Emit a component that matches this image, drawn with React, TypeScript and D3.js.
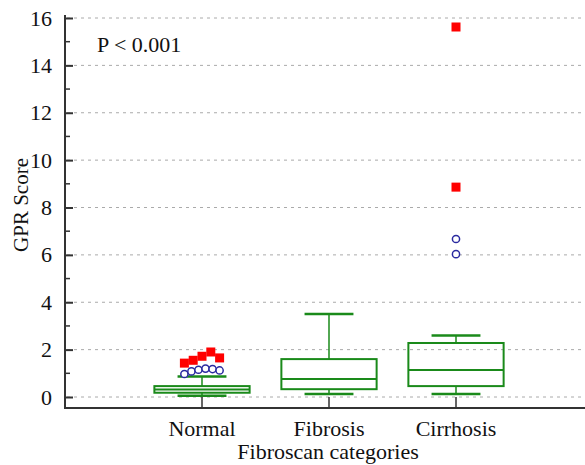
import React, { useEffect, useRef } from 'react'
import * as d3 from 'd3'

const categories = ['Normal', 'Fibrosis', 'Cirrhosis']
const q1 = [0.18, 0.33, 0.46]
const medians = [0.32, 0.76, 1.14]
const q3 = [0.46, 1.6, 2.28]
const whiskerLow = [0.05, 0.13, 0.13]
const whiskerHigh = [0.87, 3.5, 2.6]

// outside values (circles) and far-out values (squares)
const outsideNormal = [0.97, 1.08, 1.15, 1.2, 1.18, 1.12]
const outsideCirrhosis = [6.67, 6.03]
const farNormal = [1.43, 1.55, 1.72, 1.9, 1.65]
const farCirrhosis = [15.62, 8.86]

const yTicks = [0, 2, 4, 6, 8, 10, 12, 14, 16]

export default function App() {
  const ref = useRef<SVGSVGElement>(null)

  useEffect(() => {
    const svg = d3.select(ref.current)
    svg.selectAll('*').remove()

    const width = 585
    const left = 65
    const axisY = 408

    const y = d3.scaleLinear().domain([0, 16]).range([397, 18])
    const x = d3.scaleBand().domain(categories).range([138.5, 519.5])
    const bw = x.bandwidth()
    const cx = (c: string) => (x(c) as number) + bw / 2

    const font = "'Liberation Serif', 'Times New Roman', serif"
    const green = '#1a8a1a'

    // grid
    svg.append('g').selectAll('line').data(yTicks).join('line')
      .attr('x1', left + 2).attr('x2', width)
      .attr('y1', d => y(d)).attr('y2', d => y(d))
      .attr('stroke', '#aaa').attr('stroke-dasharray', '3,4')

    // y axis
    const yAxis = d3.axisLeft(y).tickValues(yTicks).tickSize(-8).tickPadding(13).tickFormat(d3.format('d'))
    const gy = svg.append('g').attr('transform', `translate(${left},0)`).call(yAxis)
    gy.attr('font-family', null).attr('font-size', null)
    gy.select('.domain').remove()
    gy.selectAll('.tick line').attr('stroke', '#333').attr('stroke-width', 2)
    gy.selectAll('.tick text').style('font-family', font).style('font-size', '22px').attr('fill', '#111')
    svg.append('g').selectAll('line').data(d3.range(1, 16, 2)).join('line')
      .attr('x1', left).attr('x2', left + 5)
      .attr('y1', d => y(d)).attr('y2', d => y(d))
      .attr('stroke', '#333').attr('stroke-width', 1.5)
    svg.append('line').attr('x1', left).attr('x2', left).attr('y1', 15).attr('y2', axisY + 1)
      .attr('stroke', '#333').attr('stroke-width', 2)

    // x axis
    svg.append('line').attr('x1', left - 1).attr('x2', width).attr('y1', axisY).attr('y2', axisY)
      .attr('stroke', '#333').attr('stroke-width', 2)
    svg.append('g').selectAll('line').data(categories).join('line')
      .attr('x1', d => cx(d)).attr('x2', d => cx(d))
      .attr('y1', axisY).attr('y2', axisY - 11)
      .attr('stroke', '#333').attr('stroke-width', 1.5)
    svg.append('g').selectAll('text').data(categories).join('text')
      .attr('x', d => cx(d)).attr('y', 436)
      .attr('text-anchor', 'middle').style('font-family', font).style('font-size', '22px').attr('fill', '#111')
      .text(d => d)

    svg.append('text').attr('x', 328).attr('y', 459).attr('text-anchor', 'middle')
      .style('font-family', font).style('font-size', '22px').attr('fill', '#111').text('Fibroscan categories')
    svg.append('text').attr('transform', 'translate(28,205) rotate(-90)').attr('text-anchor', 'middle')
      .style('font-family', font).style('font-size', '21px').attr('fill', '#111').text('GPR Score')
    svg.append('text').attr('x', 97).attr('y', 52)
      .style('font-family', font).style('font-size', '22px').attr('fill', '#111').text('P < 0.001')

    // boxes
    const boxW = bw * 0.75
    const capW = bw * 0.385
    const g = svg.append('g').attr('stroke', green).attr('fill', 'none')
    categories.forEach((c, i) => {
      const m = cx(c)
      g.append('line').attr('x1', m).attr('x2', m).attr('y1', y(q3[i])).attr('y2', y(whiskerHigh[i])).attr('stroke-width', 1.5)
      g.append('line').attr('x1', m).attr('x2', m).attr('y1', y(q1[i])).attr('y2', y(whiskerLow[i])).attr('stroke-width', 1.5)
      g.append('line').attr('x1', m - capW / 2).attr('x2', m + capW / 2)
        .attr('y1', y(whiskerHigh[i])).attr('y2', y(whiskerHigh[i])).attr('stroke-width', 2.5)
      g.append('line').attr('x1', m - capW / 2).attr('x2', m + capW / 2)
        .attr('y1', y(whiskerLow[i])).attr('y2', y(whiskerLow[i])).attr('stroke-width', 2.5)
      g.append('rect').attr('x', m - boxW / 2).attr('width', boxW)
        .attr('y', y(q3[i])).attr('height', y(q1[i]) - y(q3[i])).attr('stroke-width', 2)
      g.append('line').attr('x1', m - boxW / 2).attr('x2', m + boxW / 2)
        .attr('y1', y(medians[i])).attr('y2', y(medians[i])).attr('stroke-width', 2)
    })

    // outliers, spread side by side when there are many in one category
    const spread = (vals: number[], c: string) => {
      const n = vals.length
      const step = n > 2 ? capW * 0.72 / (n - 1) : 0
      return vals.map((v, i) => ({ v, px: cx(c) + (i - (n - 1) / 2) * step }))
    }
    const squares = [...spread(farNormal, 'Normal'), ...spread(farCirrhosis, 'Cirrhosis')]
    const circles = [...spread(outsideNormal, 'Normal'), ...spread(outsideCirrhosis, 'Cirrhosis')]

    svg.append('g').selectAll('rect').data(squares).join('rect')
      .attr('x', d => d.px - 4.5).attr('y', d => y(d.v) - 4.5)
      .attr('width', 9).attr('height', 9).attr('fill', '#ff0000')
    svg.append('g').selectAll('circle').data(circles).join('circle')
      .attr('cx', d => d.px).attr('cy', d => y(d.v)).attr('r', 3.6)
      .attr('fill', 'white').attr('stroke', '#2a2aa0').attr('stroke-width', 1.5)
  }, [])

  return (
    <div style={{ position: 'absolute', left: 0, top: 0 }}>
      <svg ref={ref} width={585} height={465} style={{ display: 'block', background: 'white' }} />
    </div>
  )
}
